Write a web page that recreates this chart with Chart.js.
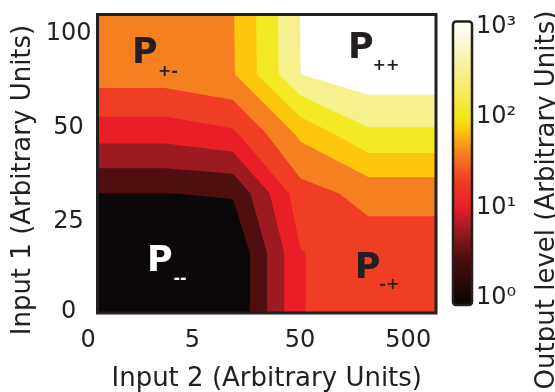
<!DOCTYPE html>
<html>
<head>
<meta charset="utf-8">
<script src="https://cdn.jsdelivr.net/npm/chart.js@4.4.1/dist/chart.umd.min.js"></script>
<style>
  html, body { margin: 0; padding: 0; background: #ffffff; }
  canvas { display: block; }
</style>
</head>
<body>
<canvas id="contour" width="555" height="392"></canvas>
<script>
// grid nodes (axis units) and log10 of the output level at each node, rows bottom -> top
const gridX = [0, 1, 2, 3, 4, 5];
const gridY = [0, 1, 2, 3, 4, 5];
const outputLog = [
    [0.00, 0.00, 0.00, 1.32, 1.50, 1.50],
    [0.00, 0.00, 0.00, 1.32, 1.50, 1.50],
    [0.327, 0.327, 0.367, 1.53, 1.77, 1.77],
    [1.13, 1.13, 1.27, 2.07, 2.60, 2.60],
    [1.83, 1.83, 1.97, 3.00, 3.21, 3.21],
    [1.87, 1.87, 1.98, 3.01, 3.27, 3.27]
];
const contourLevels = [0.333, 0.667, 1, 1.333, 1.667, 2, 2.333, 2.667, 3];
const bandColors = ['#0c0708', '#4f0e10', '#9c1b21', '#e91e26', '#ef3e24', '#f58021', '#fdc70e', '#f3e925', '#f6f08f', '#ffffff'];

const xTickValues = [-0.14, 1.40, 2.99, 4.59];
const xTickLabels = ['0', '5', '50', '500'];
const yTickValues = [0.02, 1.52, 3.11, 4.68];
const yTickLabels = ['0', '25', '50', '100'];
const cbTickValues = [1, 10, 100, 1000];
const cbTickLabels = ['10⁰', '10¹', '10²', '10³'];
// colour bar ramp: log10 output -> colour
const cbStopLogs = [0, 0.45, 0.75, 1.0, 1.3, 1.6, 1.85, 2.0, 2.5, 3.0];
const cbStopColors = ['#120707', '#4f0e10', '#9c1b21', '#e91e26', '#ef3e24', '#f58021', '#fdc70e', '#f5e61a', '#f6f08f', '#fffef6'];

const regionLabels = [
    { text: 'P', sub: '+-', x: 0.70, y: 4.40, sx: 1.04, sy: 4.07, color: '#231f20' },
    { text: 'P', sub: '++', x: 3.89, y: 4.49, sx: 4.26, sy: 4.17, color: '#231f20' },
    { text: 'P', sub: '--', x: 0.92, y: 0.91, sx: 1.22, sy: 0.59, color: '#ffffff' },
    { text: 'P', sub: '-+', x: 3.99, y: 0.80, sx: 4.31, sy: 0.50, color: '#231f20' }
];

const INK = '#231f20';
const FONT = 'DejaVu Sans';

// keep the part of a polygon at or above a level (values interpolated along edges)
function clipAbove(poly, level) {
    const out = [];
    for (let i = 0; i < poly.length; i++) {
        const a = poly[i], b = poly[(i + 1) % poly.length];
        const ina = a.z >= level, inb = b.z >= level;
        if (ina) out.push(a);
        if (ina !== inb) {
            const t = (level - a.z) / (b.z - a.z);
            out.push({ x: a.x + t * (b.x - a.x), y: a.y + t * (b.y - a.y), z: level });
        }
    }
    return out;
}

const contourPlugin = {
    id: 'contourFill',
    beforeDatasetsDraw(chart) {
        const { ctx, chartArea: area, scales: { x, y } } = chart;
        ctx.save();
        ctx.beginPath();
        ctx.rect(area.left, area.top, area.right - area.left, area.bottom - area.top);
        ctx.clip();
        ctx.fillStyle = bandColors[0];
        ctx.fillRect(area.left, area.top, area.right - area.left, area.bottom - area.top);
        contourLevels.forEach((level, k) => {
            ctx.beginPath();
            for (let j = 0; j < gridY.length - 1; j++) {
                for (let i = 0; i < gridX.length - 1; i++) {
                    const cell = [
                        { x: gridX[i], y: gridY[j], z: outputLog[j][i] },
                        { x: gridX[i + 1], y: gridY[j], z: outputLog[j][i + 1] },
                        { x: gridX[i + 1], y: gridY[j + 1], z: outputLog[j + 1][i + 1] },
                        { x: gridX[i], y: gridY[j + 1], z: outputLog[j + 1][i] }
                    ];
                    const poly = clipAbove(cell, level);
                    if (poly.length < 3) continue;
                    poly.forEach((p, n) => {
                        const px = x.getPixelForValue(p.x), py = y.getPixelForValue(p.y);
                        if (n === 0) ctx.moveTo(px, py); else ctx.lineTo(px, py);
                    });
                    ctx.closePath();
                }
            }
            ctx.fillStyle = bandColors[k + 1];
            ctx.fill();
        });
        ctx.restore();
    },
    afterDatasetsDraw(chart) {
        const { ctx, chartArea: area, scales: { x, y } } = chart;
        ctx.save();
        // region labels
        regionLabels.forEach(l => {
            ctx.fillStyle = l.color;
            ctx.textAlign = 'center';
            ctx.textBaseline = 'alphabetic';
            ctx.font = 'bold 35px "' + FONT + '"';
            ctx.fillText(l.text, x.getPixelForValue(l.x), y.getPixelForValue(l.y) + 12.8);
            ctx.font = 'bold 16px "' + FONT + '"';
            ctx.fillText(l.sub, x.getPixelForValue(l.sx), y.getPixelForValue(l.sy) + 5.5);
        });
        // frame
        ctx.strokeStyle = INK;
        ctx.lineWidth = 3;
        ctx.strokeRect(area.left, area.top, area.right - area.left, area.bottom - area.top);
        ctx.restore();
    },
    afterDraw(chart) {
        const { ctx, chartArea: area, scales: { y2 } } = chart;
        ctx.save();
        // colour bar
        const bx = area.right + 17, bw = 19;
        const top = y2.getPixelForValue(1000) - 5, bottom = y2.getPixelForValue(1) + 7;
        const grad = ctx.createLinearGradient(0, bottom, 0, top);
        cbStopLogs.forEach((d, k) => {
            const yy = y2.getPixelForValue(Math.pow(10, d));
            const f = Math.min(1, Math.max(0, (bottom - yy) / (bottom - top)));
            grad.addColorStop(f, cbStopColors[k]);
        });
        ctx.beginPath();
        ctx.roundRect(bx, top, bw, bottom - top, 3);
        ctx.fillStyle = grad;
        ctx.fill();
        ctx.lineWidth = 2.5;
        ctx.strokeStyle = INK;
        ctx.stroke();
        // axis titles drawn rotated so both read bottom to top
        ctx.fillStyle = INK;
        ctx.font = '26px "' + FONT + '"';
        ctx.textAlign = 'center';
        ctx.textBaseline = 'middle';
        ctx.translate(23, 180);
        ctx.rotate(-Math.PI / 2);
        ctx.fillText('Input 1 (Arbitrary Units)', 0, 0);
        ctx.setTransform(1, 0, 0, 1, 0, 0);
        ctx.translate(547, 200);
        ctx.rotate(-Math.PI / 2);
        ctx.fillText('Output level (Arbitrary Units)', 0, 0);
        ctx.restore();
    }
};

const nodes = [];
gridY.forEach((gy, j) => gridX.forEach((gx, i) => nodes.push({ x: gx, y: gy, v: outputLog[j][i] })));

const tickFont = { family: FONT, size: 24 };

function noPad(s) {
    s.paddingTop = 0;
    s.paddingBottom = 0;
    s.paddingLeft = 0;
    s.paddingRight = 0;
}

new Chart(document.getElementById('contour'), {
    type: 'scatter',
    data: {
        datasets: [{ data: nodes, pointRadius: 0, pointHoverRadius: 0, showLine: false }]
    },
    options: {
        responsive: false,
        animation: false,
        events: [],
        layout: { padding: { top: 14.5, left: 0, right: 0, bottom: 0 } },
        plugins: { legend: { display: false }, tooltip: { enabled: false } },
        scales: {
            x: {
                type: 'linear',
                min: 0,
                max: 5,
                grid: { display: false, drawTicks: false },
                border: { display: false },
                afterBuildTicks: s => { s.ticks = xTickValues.map(v => ({ value: v })); },
                afterFit: s => { s.height = 79; noPad(s); },
                ticks: {
                    autoSkip: false,
                    maxRotation: 0,
                    padding: 13,
                    color: INK,
                    font: tickFont,
                    callback: (v, i) => xTickLabels[i]
                },
                title: {
                    display: true,
                    text: 'Input 2 (Arbitrary Units)',
                    color: INK,
                    font: { family: FONT, size: 26, lineHeight: 1 },
                    padding: { top: 0, bottom: 0 }
                }
            },
            y: {
                type: 'linear',
                position: 'left',
                min: 0,
                max: 5,
                grid: { display: false, drawTicks: false },
                border: { display: false },
                afterBuildTicks: s => { s.ticks = yTickValues.map(v => ({ value: v })); },
                afterFit: s => { s.width = 97.5; noPad(s); },
                ticks: {
                    autoSkip: false,
                    crossAlign: 'center',
                    padding: 6,
                    color: INK,
                    font: tickFont,
                    callback: (v, i) => yTickLabels[i]
                }
            },
            y2: {
                type: 'logarithmic',
                position: 'right',
                min: Math.pow(10, -0.166),
                max: Math.pow(10, 3.133),
                grid: { display: false, drawTicks: false },
                border: { display: false },
                afterBuildTicks: s => { s.ticks = cbTickValues.map(v => ({ value: v })); },
                afterFit: s => { s.width = 119; noPad(s); },
                ticks: {
                    autoSkip: false,
                    padding: 40,
                    color: INK,
                    font: tickFont,
                    callback: (v, i) => cbTickLabels[i]
                }
            }
        }
    },
    plugins: [contourPlugin]
});
</script>
</body>
</html>
